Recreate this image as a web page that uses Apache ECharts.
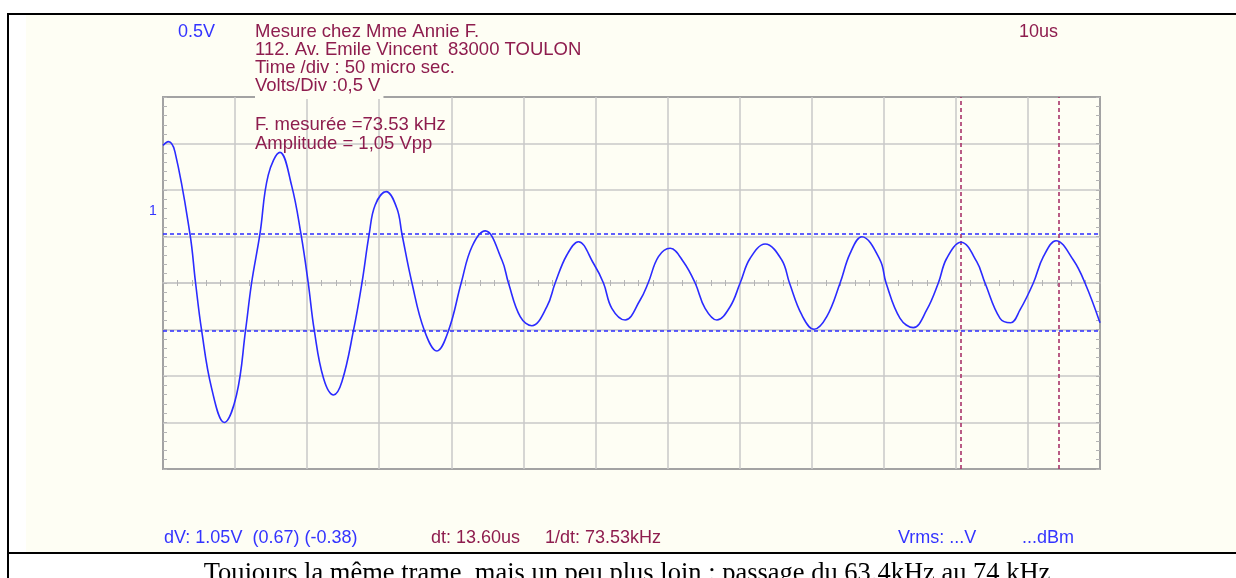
<!DOCTYPE html>
<html>
<head>
<meta charset="utf-8">
<script src="https://cdn.jsdelivr.net/npm/echarts@6/dist/echarts.min.js"></script>
<style>
html,body{margin:0;padding:0;background:#ffffff;}
#chart{width:1236px;height:578px;}
</style>
</head>
<body>
<div id="chart"></div>
<script>
// Time axis (microseconds, 10 us / div) and voltage (0.5 V / div)
const timeUs = [0, 0.74, 1.66, 3.74, 4.52, 5.35, 6.74, 8.50, 10.21, 11.46, 12.29, 13.45, 14.6, 16.23, 17.84, 19.14, 20.15, 20.98, 22.27, 23.66, 24.83, 26.44, 27.6, 28.61, 29.44, 30.97, 32.45, 33.15, 34.54, 36.24, 38.0, 39.64, 41.37, 42.86, 44.70, 47.02, 47.93, 49.56, 51.18, 53.26, 54.41, 56.03, 57.64, 59.72, 61.11, 62.27, 64.12, 66.2, 67.31, 68.74, 70.36, 72.2, 73.83, 75.21, 76.84, 78.68, 80.07, 81.46, 83.54, 85.85, 86.92, 88.63, 90.33, 92.09, 93.94, 95.33, 96.95, 99.49, 100.32, 102.26, 104.1, 105.96, 107.57, 108.74, 110.72, 112.9, 114.05, 116.13, 117.6, 118.9, 120.75, 122.14, 123.9, 126.3, 127.92, 130];
const volts = [1.48, 1.52, 1.41, 0.527, 0, -0.505, -1.13, -1.50, -1.20, -0.505, 0, 0.527, 1.16, 1.405, 1.05, 0.527, 0, -0.505, -1.025, -1.204, -1.06, -0.505, 0, 0.527, 0.839, 0.982, 0.803, 0.527, 0, -0.505, -0.731, -0.505, 0, 0.39, 0.56, 0.247, 0, -0.362, -0.459, -0.255, 0, 0.301, 0.444, 0.212, 0, -0.272, -0.398, -0.183, 0, 0.283, 0.373, 0.229, 0, -0.272, -0.398, -0.255, 0, 0.266, 0.419, 0.247, 0, -0.344, -0.498, -0.362, 0, 0.319, 0.498, 0.247, 0, -0.38, -0.48, -0.29, 0, 0.266, 0.438, 0.229, 0, -0.38, -0.427, -0.29, 0, 0.283, 0.455, 0.247, 0, -0.427];
const cursorTimes = [110.7, 124.3];
const cursorLevels = [0.527, -0.505];
const xRange = [0, 130];
const yRange = [-2, 2];

const headerLines = ['Mesure chez Mme Annie F.', '112. Av. Emile Vincent  83000 TOULON', 'Time /div : 50 micro sec.', 'Volts/Div :0,5 V'];
const measureLines = ['F. mesurée =73.53 kHz', 'Amplitude = 1,05 Vpp'];
const voltLabel = '0.5V';
const timeLabel = '10us';
const refLabel = '1';
const footerBlue = 'dV: 1.05V  (0.67) (-0.38)';
const footerDt = 'dt: 13.60us';
const footerInvDt = '1/dt: 73.53kHz';
const footerVrms = 'Vrms: ...V';
const footerDbm = '...dBm';
const caption = 'Toujours la même trame, mais un peu plus loin : passage du 63.4kHz au 74 kHz';

const PURPLE = '#8e1d4e';
const BLUE = '#3434ff';
const WAVE = '#2b2bff';
const CREAM = '#fefef4';
const GRID = '#c9c9c9';
const FONT = '"Liberation Sans", Arial, sans-serif';

const chart = echarts.init(document.getElementById('chart'), null, {renderer: 'canvas'});

function txt(x, y, s, color, size, extra) {
  return Object.assign({
    type: 'text', x: x, y: y, z: 100,
    style: {text: s, fill: color, font: (size || 18) + 'px ' + FONT, verticalAlign: 'middle', align: 'left'}
  }, extra || {});
}

const tickStyle = {color: '#b4b4b4', width: 1};

const option = {
  backgroundColor: '#ffffff',
  animation: false,
  grid: {
    left: 163, right: 136, top: 97, bottom: 109,
    show: true, borderColor: '#a3a3a3', borderWidth: 2, backgroundColor: 'transparent',
    outerBoundsMode: 'none', containLabel: false
  },
  xAxis: [
    {
      type: 'value', min: xRange[0], max: xRange[1], interval: 10, position: 'bottom',
      axisLine: {show: true, onZero: true, onZeroAxisIndex: 0, lineStyle: {color: GRID, width: 1.5}},
      axisTick: {show: false},
      minorTick: {show: true, splitNumber: 5, length: 3, lineStyle: tickStyle},
      axisLabel: {show: false},
      splitLine: {show: true, showMinLine: false, showMaxLine: false, lineStyle: {color: GRID, width: 1.5}}
    },
    {
      type: 'value', min: xRange[0], max: xRange[1], interval: 10, position: 'top',
      axisLine: {show: false, onZero: true, onZeroAxisIndex: 0},
      axisTick: {show: false},
      minorTick: {show: true, splitNumber: 5, length: 3, lineStyle: tickStyle},
      axisLabel: {show: false},
      splitLine: {show: false}
    }
  ],
  yAxis: [
    {
      type: 'value', min: yRange[0], max: yRange[1], interval: 0.5, position: 'left',
      axisLine: {show: false, onZero: false},
      axisTick: {show: true, inside: true, length: 4, lineStyle: tickStyle},
      minorTick: {show: true, splitNumber: 5, length: 4, lineStyle: tickStyle},
      axisLabel: {show: false},
      splitLine: {show: true, showMinLine: false, showMaxLine: false, lineStyle: {color: GRID, width: 1.5}}
    },
    {
      type: 'value', min: yRange[0], max: yRange[1], interval: 0.5, position: 'right',
      axisLine: {show: false, onZero: false},
      axisTick: {show: true, inside: true, length: 4, lineStyle: tickStyle},
      minorTick: {show: true, splitNumber: 5, length: 4, lineStyle: tickStyle},
      axisLabel: {show: false},
      splitLine: {show: false}
    }
  ],
  series: [
    {
      type: 'line', xAxisIndex: 0, yAxisIndex: 0,
      data: timeUs.map((t, i) => [t, volts[i]]),
      smooth: 0.4, showSymbol: false, symbol: 'none',
      lineStyle: {color: WAVE, width: 1.6},
      z: 5,
      markLine: {
        silent: true, symbol: 'none', animation: false,
        label: {show: false},
        data: cursorLevels.map(v => ({yAxis: v, lineStyle: {color: WAVE, type: [4, 3], width: 1.6}}))
          .concat(cursorTimes.map(t => ({xAxis: t, lineStyle: {color: '#a8336a', type: [4, 3], width: 1.6}})))
      }
    }
  ],
  graphic: [
    {type: 'rect', z: -10, shape: {x: 26, y: 15, width: 1236 - 26, height: 552 - 15}, style: {fill: CREAM}},
    {type: 'line', z: 50, shape: {x1: 8, y1: 14, x2: 1236, y2: 14}, style: {stroke: '#000', lineWidth: 2}},
    {type: 'line', z: 50, shape: {x1: 8, y1: 13, x2: 8, y2: 578}, style: {stroke: '#000', lineWidth: 2}},
    {type: 'line', z: 50, shape: {x1: 8, y1: 553, x2: 1236, y2: 553}, style: {stroke: '#000', lineWidth: 2}},
    txt(178, 32, voltLabel, BLUE),
    txt(255, 32, headerLines[0], PURPLE, 18.5),
    txt(255, 50, headerLines[1], PURPLE, 18.5),
    txt(255, 68, headerLines[2], PURPLE, 18.5),
    {
      type: 'text', x: 255, y: 86, z: 120,
      style: {text: headerLines[3], fill: PURPLE, font: '18.5px ' + FONT, verticalAlign: 'middle', align: 'left',
        backgroundColor: CREAM, padding: [0, 3, 7, 0]}
    },
    txt(1019, 32, timeLabel, PURPLE),
    txt(255, 125, measureLines[0], PURPLE, 18.5),
    txt(255, 143.5, measureLines[1], PURPLE, 18.5),
    txt(149, 211, refLabel, BLUE, 14),
    txt(164, 538, footerBlue, BLUE),
    txt(431, 538, footerDt, PURPLE),
    txt(545, 538, footerInvDt, PURPLE),
    txt(898, 538, footerVrms, BLUE),
    txt(1022, 538, footerDbm, BLUE),
    {
      type: 'text', x: 627, y: 574, z: 100,
      style: {text: caption, fill: '#000', font: '26.5px "Liberation Serif", "Times New Roman", serif', verticalAlign: 'middle', align: 'center'}
    }
  ]
};
chart.setOption(option);
</script>
</body>
</html>
